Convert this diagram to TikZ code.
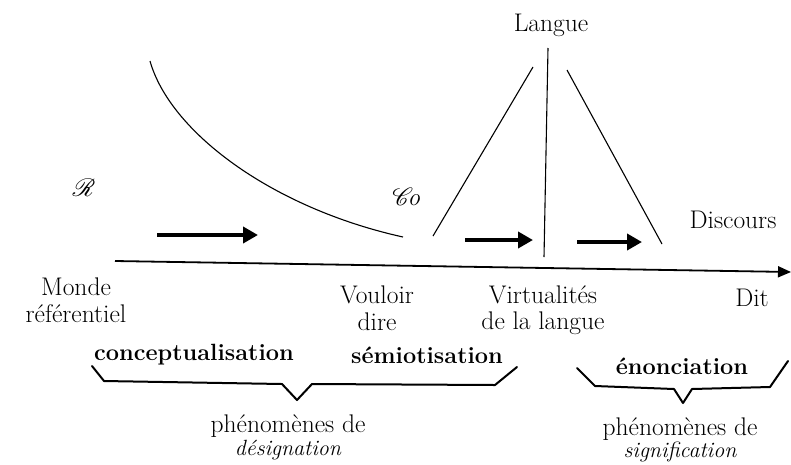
\documentclass[tikz,border=0pt]{standalone}
\usepackage{mathrsfs}
\usetikzlibrary{arrows.meta}
\begin{document}
\begin{tikzpicture}[x=1pt,y=-1pt,
  lbl/.style={inner sep=0pt, align=center, font=\fontsize{25.5}{26.5}\selectfont},
  blbl/.style={inner sep=0pt, font=\fontsize{23.5}{26}\selectfont\bfseries},
  scr/.style={inner sep=0pt, font=\fontsize{30}{30}\selectfont},
  thinline/.style={line width=1.1pt},
  fatarrow/.style={line width=4pt, -{Triangle[length=15pt,width=16pt]}},
  axisline/.style={line width=1.8pt, -{Triangle[length=13pt,width=11pt]}},
  bracepath/.style={line width=2pt, line join=round, line cap=round}]
\useasboundingbox (0,0) rectangle (791,464);

% labels
\node[lbl] (langue) at (551,25) {Langue};
\node[lbl] (discours) at (733,220) {Discours};
\node[lbl] (dit) at (752,298) {Dit};
\node[lbl] (monde) at (76,300) {Monde\\référentiel};
\node[lbl] (vouloir) at (377,308) {Vouloir\\dire};
\node[lbl] (virt) at (543,310) {Virtualités\\de la langue};
\node[scr] (R) at (84,188) {$\mathscr{R}$};
\node[scr] (Co) at (407,197) {$\mathscr{C}\mkern-4mu\mathit{o}$};

% axis
\coordinate (ax0) at (115,261);
\coordinate (ax1) at (791,272);
\draw[axisline] (ax0) -- (ax1);

% curve
\coordinate (c0) at (150,61);
\coordinate (c1) at (403,237);
\draw[thinline] (c0) .. controls (170,132) and (272,208) .. (c1);

% Langue lines
\coordinate (v0) at (548,48);
\coordinate (v1) at (544,257);
\draw[thinline] (v0) -- (v1);
\coordinate (l0) at (433,236);
\coordinate (l1) at (533,67);
\draw[thinline] (l0) -- (l1);
\coordinate (r0) at (567,70);
\coordinate (r1) at (662,244);
\draw[thinline] (r0) -- (r1);

% thick arrows
\coordinate (a1s) at (157,235); \coordinate (a1e) at (258,235);
\coordinate (a2s) at (465,240); \coordinate (a2e) at (533,240);
\coordinate (a3s) at (577,242); \coordinate (a3e) at (642,242);
\draw[fatarrow] (a1s) -- (a1e);
\draw[fatarrow] (a2s) -- (a2e);
\draw[fatarrow] (a3s) -- (a3e);

% bottom labels
\node[blbl] (concept) at (194,355) {conceptualisation};
\node[blbl] (semio) at (427,355) {sémiotisation};
\node[blbl] (enon) at (682,366) {énonciation};
\node[lbl, font=\fontsize{25.5}{23}\selectfont] (phen1) at (288,437) {phénomènes de\\{\fontsize{22}{23}\selectfont\itshape désignation}};
\node[lbl, font=\fontsize{25.5}{22}\selectfont] (phen2) at (680,440) {phénomènes de\\{\fontsize{22}{22}\selectfont\itshape signification}};

% braces
\draw[bracepath] (92,366) -- (104,381) -- (282,384) -- (297,400) -- (312,384) -- (495,385) -- (517,367);
\draw[bracepath] (577,368) -- (595,386) -- (674,389) -- (683,403) -- (692,389) -- (770,387) -- (788,361);
\end{tikzpicture}
\end{document}
